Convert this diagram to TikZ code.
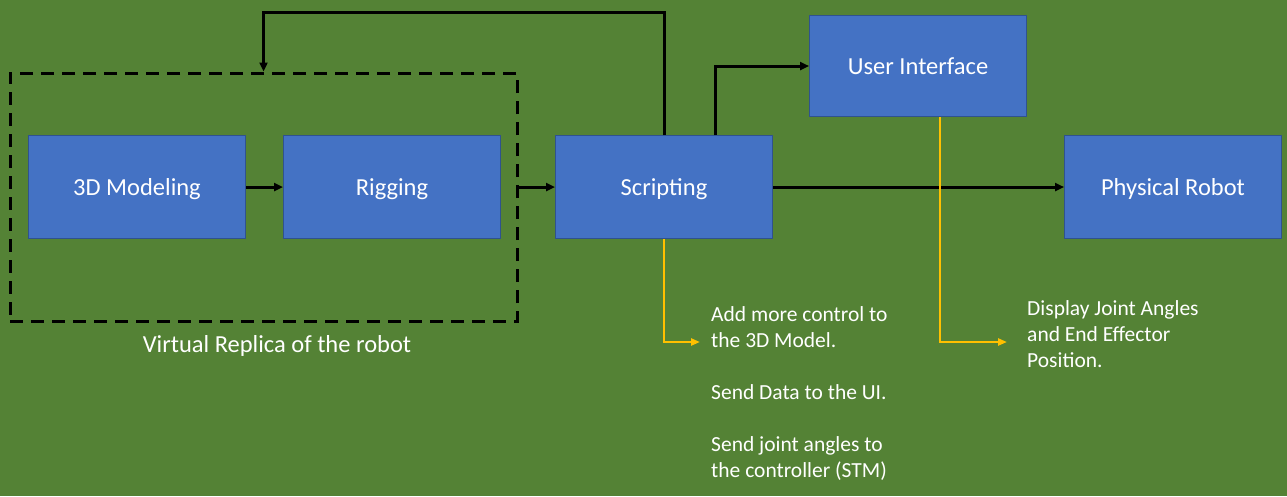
\documentclass[tikz,border=0pt]{standalone}
\usepackage{fontspec}
\setmainfont{Carlito}
\usetikzlibrary{arrows.meta,positioning}
\definecolor{bggreen}{HTML}{548235}
\definecolor{boxblue}{HTML}{4472C4}
\definecolor{boxedge}{HTML}{2F528F}
\definecolor{noteyellow}{HTML}{FFC000}

\begin{document}
\begin{tikzpicture}[
  x=1pt, y=-1pt,
  font=\fontsize{24.5}{29}\selectfont, node distance=37pt,
  box/.style={draw=boxedge, line width=1pt, fill=boxblue, text=white, minimum width=217pt, minimum height=103pt, inner sep=0pt, text depth=-2pt},
  note/.style={text=white, align=left, anchor=north west, inner sep=0pt, font=\fontsize{21.5}{26}\selectfont},
  arr/.style={-{Triangle[length=9pt,width=8pt]}, line width=3pt},
  yarr/.style={-{Triangle[length=9pt,width=7pt]}, line width=2.5pt, draw=noteyellow}
]
\fill[bggreen] (0,0) rectangle (1287,496);
\useasboundingbox (0,0) rectangle (1287,496);
\node[box] (model) at (137,187) {3D Modeling};
\node[box, right=of model] (rig) {Rigging};
\node[box, right=54pt of rig] (script) {Scripting};
\node[box, right=291pt of script] (robot) {Physical Robot};
\node[box, minimum height=101pt] (ui) at (918,66) {User Interface};
\node[draw, dash pattern=on 13pt off 8pt, line width=3pt, minimum width=507pt, minimum height=248pt] (virt) at (263.5,197) {};
\node[text=white] (vlabel) at (277,346) {Virtual Replica of the robot};
\node[note] (notescript) at (711,306) {Add more control to\\the 3D Model.\\[26pt]Send Data to the UI.\\[26pt]Send joint angles to\\the controller (STM)};
\node[note] (noteui) at (1027,300) {Display Joint Angles\\and End Effector\\Position.};
\coordinate (tipA) at (700,342);
\coordinate (tipB) at (1007,342);
\draw[arr] (model) -- (rig);
\draw[arr] (virt.east |- script.west) -- (script.west);
\draw[arr] (script) -- (robot);
\draw[arr] (script.north) -- ++(0,-123) -| (virt.north);
\draw[arr] ([xshift=51pt]script.north) |- (ui.west);
\draw[yarr] (script.south) |- (tipA);
\draw[yarr] ([xshift=22pt]ui.south) |- (tipB);
\end{tikzpicture}
\end{document}
